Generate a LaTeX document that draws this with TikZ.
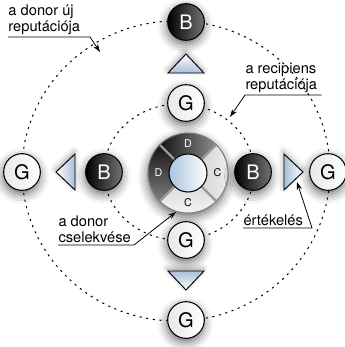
\documentclass[tikz,border=0pt]{standalone}
\usepackage{fontspec}
\setmainfont{TeX Gyre Heros}
\usetikzlibrary{arrows.meta,shadows.blur}

\definecolor{triblue}{RGB}{168,190,216}
\definecolor{diskblue}{RGB}{170,195,222}

\tikzset{every picture/.style={line width=0.75pt}}
\tikzset{
  softshadow/.style={blur shadow={shadow xshift=-0.5pt,shadow yshift=-3pt,shadow blur radius=7pt,shadow opacity=60}},
  flatshadow/.style={blur shadow={shadow xshift=-0.5pt,shadow yshift=2pt,shadow blur radius=4pt,shadow opacity=35}},
  agent/.style={circle,draw=black,line width=0.8pt,minimum size=27.5pt,inner sep=0pt,font=\fontsize{15}{15}\selectfont,softshadow},
  badagent/.style={agent,left color=black,right color=black!55,text=white},
  goodagent/.style={agent,left color=black!9,right color=white},
  reprng/.style={line width=0.75pt,dash pattern=on 1.6pt off 3.4pt},
  tri/.style={draw=black,line width=0.7pt,flatshadow},
  lbl/.style={anchor=south west,inner xsep=0pt,inner ysep=1.6pt,align=left,font=\fontsize{11}{12}\selectfont},
  ptr/.style={-{Stealth[length=6pt,width=4pt]},line width=0.6pt},
  segtxt/.style={font=\fontsize{8}{8}\selectfont,inner sep=0pt},
}

\begin{document}
\begin{tikzpicture}[x=0.75pt,y=0.75pt,yscale=-1,xscale=1]
	\useasboundingbox (0,0) rectangle (345,347);

	%Shape: Ellipse [reputation rings]
	\draw [reprng] (176,171) ellipse [x radius=154,y radius=150];
	\draw [reprng] (179,172) ellipse [x radius=75,y radius=68];

	%Shape: Wheel of actions
	\begin{scope}[shift={(188,173)},yscale=-1]
		\path [softshadow,fill=white] (0,0) circle [radius=40];
		\fill [left color=black!92,right color=black!45] (45:40) arc [start angle=45,end angle=135,radius=40] -- (135:19) arc [start angle=135,end angle=45,radius=19] -- cycle;
		\fill [top color=black!92,bottom color=black!50] (135:40) arc [start angle=135,end angle=225,radius=40] -- (225:19) arc [start angle=225,end angle=135,radius=19] -- cycle;
		\fill [left color=black!16,right color=black!6] (-45:40) arc [start angle=-45,end angle=45,radius=40] -- (45:19) arc [start angle=45,end angle=-45,radius=19] -- cycle;
		\fill [top color=black!14,bottom color=black!3] (225:40) arc [start angle=225,end angle=315,radius=40] -- (315:19) arc [start angle=315,end angle=225,radius=19] -- cycle;
		\foreach \a in {45,135,225,315}
			\draw [black!40,line width=1.6pt] (\a:19) -- (\a:39.5);
		\draw [black!50,line width=0.8pt] (0,0) circle [radius=40];
		\node [segtxt,text=white] (actTop) at (90:29.5) {D};
		\node [segtxt,text=white] (actLeft) at (180:29.5) {D};
		\node [segtxt] (actRight) at (0:29.5) {C};
		\node [segtxt] (actBot) at (270:29.5) {C};
	\end{scope}
	%Shape: Circle [recipient reputation]
	\node [circle,draw=black,line width=0.8pt,minimum size=28.5pt,inner sep=0pt,left color=diskblue,right color=white] (disk) at (188,173) {};

	%Agents
	\node [badagent] (bTop) at (186,22) {B};
	\node [goodagent] (gTop) at (186,103) {G};
	\node [goodagent] (gBot) at (186,240) {G};
	\node [goodagent] (gBotOut) at (186,320) {G};
	\node [badagent] (bLeft) at (104,172) {B};
	\node [goodagent] (gLeft) at (22,172) {G};
	\node [badagent] (bRight) at (253,172) {B};
	\node [goodagent] (gRight) at (328,172) {G};

	%Shape: Triangle [updates]
	\draw [tri,top color=white,bottom color=triblue] (186,54) -- (204,73) -- (168,73) -- cycle;
	\draw [tri,top color=triblue,bottom color=white] (186,290) -- (168,271) -- (204,271) -- cycle;
	\draw [tri,left color=white,right color=triblue] (56,172) -- (75,154) -- (75,190) -- cycle;
	\draw [tri,left color=triblue,right color=white] (303,172) -- (284,154) -- (284,190) -- cycle;

	% Text Node
	\node [lbl] (lblNew) at (8,37) {a donor új\\reputációja};
	\node [lbl] (lblRec) at (245,95) {a recipiens\\reputációja};
	\node [lbl] (lblAct) at (58,245) {a donor\\cselekvése};
	\node [lbl] (lblEval) at (243,228) {értékelés};

	\coordinate (tipNew) at (100,52);
	\coordinate (tipRec) at (230,117);
	\coordinate (tipAct) at (176,212);
	\coordinate (tipEval) at (297,182);

	%Straight Lines [pointers]
	\draw [ptr] (lblNew.south west) -- ++(82,0) -- (tipNew);
	\draw [ptr] (lblRec.south east) ++(4,0) -- (lblRec.south west) -- (tipRec);
	\draw [ptr] (lblAct.south west) -- ++(76,0) -- (tipAct);
	\draw [ptr] (lblEval.south west) -- ++(69,0) -- (tipEval);
\end{tikzpicture}
\end{document}
